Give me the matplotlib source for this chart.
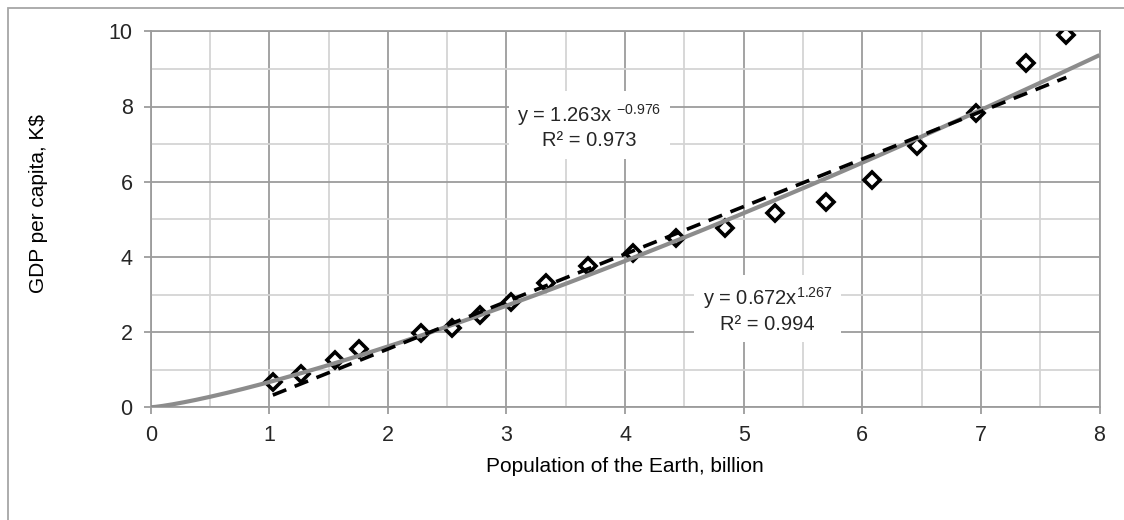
import matplotlib
matplotlib.use("Agg")
import matplotlib.pyplot as plt
import numpy as np
from matplotlib.patches import Rectangle
from matplotlib.ticker import MultipleLocator

# ---- data ----
population = [1.03, 1.27, 1.55, 1.76, 2.28, 2.54, 2.78, 3.04, 3.33, 3.69,
              4.07, 4.43, 4.84, 5.26, 5.69, 6.08, 6.46, 6.96, 7.38, 7.72]
gdp_per_capita = [0.68, 0.88, 1.26, 1.54, 1.97, 2.10, 2.45, 2.80, 3.30, 3.77,
                  4.11, 4.49, 4.76, 5.16, 5.47, 6.05, 6.96, 7.82, 9.16, 9.90]
# trend line coefficients as printed on the chart
linear_coef = [1.263, -0.976]      # y = a*x + b (dashed)
power_coef = [0.672, 1.267]        # y = a*x^b (grey)
label_linear = "y = 1.263x $^{\\mathrm{-0.976}}$\nR² = 0.973"
label_power = "y = 0.672x$^{\\mathrm{1.267}}$\nR² = 0.994"
x_label = "Population of the Earth, billion"
y_label = "GDP per capita, K$"

plt.rcParams['font.family'] = ['Liberation Sans', 'DejaVu Sans']
plt.rcParams['mathtext.fontset'] = 'custom'
plt.rcParams['mathtext.rm'] = 'Liberation Sans'
plt.rcParams['mathtext.it'] = 'Liberation Sans'
plt.rcParams['mathtext.default'] = 'regular'

W, H = 1124, 520
fig = plt.figure(figsize=(W / 100, H / 100), dpi=100)
fig.patch.set_facecolor('white')

# outer frame
fig.patches.append(Rectangle((8 / W, -0.1), 1.2, 1 - 8 / H + 0.1,
                             transform=fig.transFigure, fill=False,
                             edgecolor='#a6a6a6', linewidth=1.3))

ax = fig.add_axes([150.7 / W, 1 - 407.3 / H, (1099.5 - 150.7) / W, (407.3 - 31.3) / H])
ax.set_xlim(0, 8)
ax.set_ylim(0, 10)
ax.xaxis.set_major_locator(MultipleLocator(1))
ax.xaxis.set_minor_locator(MultipleLocator(0.5))
ax.yaxis.set_major_locator(MultipleLocator(2))
ax.yaxis.set_minor_locator(MultipleLocator(1))
ax.grid(which='major', color='#9c9c9c', linewidth=1.3, zorder=0)
ax.grid(which='minor', color='#d4d4d4', linewidth=1.3, zorder=0)
ax.set_axisbelow(True)
for s in ax.spines.values():
    s.set_color('#9c9c9c')
    s.set_linewidth(1.3)
ax.tick_params(which='major', length=5, width=1.3, color='#9c9c9c',
               labelsize=15.5, labelcolor='#262626', pad=8)
ax.tick_params(which='minor', length=0)

# data points
ax.plot(population, gdp_per_capita, linestyle='none', marker='D', markersize=8,
        markeredgewidth=2.6, markeredgecolor='black', markerfacecolor='white', zorder=3)

# power trend line (grey)
xp = np.linspace(0, 8, 400)
ax.plot(xp, power_coef[0] * xp ** power_coef[1], color='#8c8c8c', linewidth=3, zorder=4,
        solid_capstyle='butt')

# linear trend line (dashed)
xl = np.linspace(min(population), max(population), 50)
ax.plot(xl, linear_coef[0] * xl + linear_coef[1], color='black', linewidth=2.6,
        dashes=(4, 2.5), zorder=5)

bbox = dict(facecolor='white', edgecolor='none', pad=6)
ax.text(3.70, 7.48, label_linear, ha='center', va='center', multialignment='center',
        fontsize=14.5, color='#262626', bbox=bbox, zorder=6, linespacing=1.25)
ax.text(5.20, 2.59, label_power, ha='center', va='center', multialignment='center',
        fontsize=14.5, color='#262626', bbox=bbox, zorder=6, linespacing=1.25)

fig.text(625 / W, 1 - 466 / H, x_label, ha='center', va='center', fontsize=15, color='black')
fig.text(39 / W, 1 - 204 / H, y_label, ha='center', va='center', rotation=90,
         fontsize=15, color='black')

fig.savefig('out.png', dpi=100)
